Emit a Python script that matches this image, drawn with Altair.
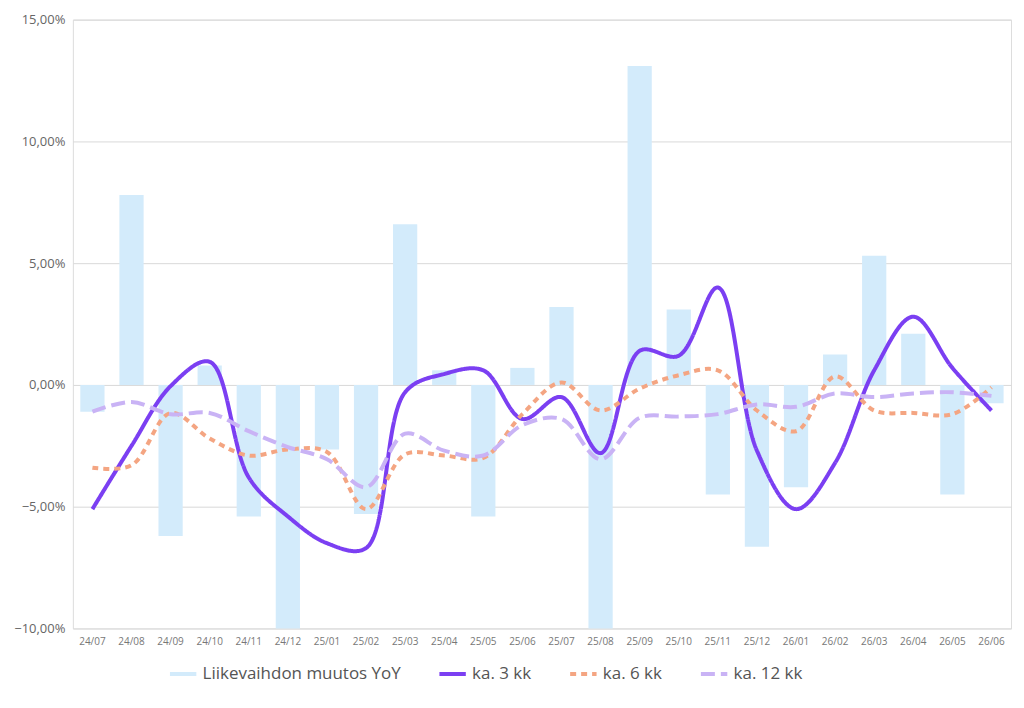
import pandas as pd
import altair as alt

# kuukaudet
months = ["24/07", "24/08", "24/09", "24/10", "24/11", "24/12",
          "25/01", "25/02", "25/03", "25/04", "25/05", "25/06",
          "25/07", "25/08", "25/09", "25/10", "25/11", "25/12",
          "26/01", "26/02", "26/03", "26/04", "26/05", "26/06"]

# arvot prosentteina
yoy = [-1.1, 7.8, -6.2, 0.8, -5.4, -10.5, -2.65, -5.3, 6.6, 0.6, -5.4, 0.7,
       3.2, -10.5, 13.1, 3.1, -4.5, -6.65, -4.2, 1.25, 5.3, 2.1, -4.5, -0.75]
ka3 = [-5.1, -2.5, -0.05, 0.95, -3.8, -5.4, -6.5, -6.7, -0.3, 0.45, 0.6, -1.4,
       -0.5, -2.8, 1.4, 1.2, 4.0, -2.7, -5.1, -3.2, 0.6, 2.8, 0.7, -1.05]
ka6 = [-3.4, -3.3, -1.15, -2.2, -2.9, -2.65, -2.75, -5.1, -2.85, -2.9, -3.0, -1.2,
       0.1, -1.05, -0.15, 0.4, 0.6, -1.05, -1.9, 0.35, -1.05, -1.15, -1.2, -0.1]
ka12 = [-1.1, -0.7, -1.2, -1.15, -1.9, -2.55, -3.05, -4.2, -2.0, -2.7, -2.9, -1.65,
        -1.4, -3.05, -1.35, -1.3, -1.2, -0.8, -0.9, -0.35, -0.5, -0.35, -0.3, -0.45]

names = ["Liikevaihdon muutos YoY", "ka. 3 kk", "ka. 6 kk", "ka. 12 kk"]
colors = ["#d3ebfb", "#7b3ff2", "#f4a582", "#c9b3f5"]
dashes = [[1, 0], [1, 0], [6, 5], [14, 6]]
widths = [4, 4, 1.8, 1.8]

bars = pd.DataFrame({"month": months, "value": [v / 100 for v in yoy], "series": names[0]})
lines = pd.concat([
    pd.DataFrame({"month": months, "value": [v / 100 for v in vals], "series": n})
    for n, vals in zip(names[1:], [ka3, ka6, ka12])
])

x = alt.X("month:N", sort=months, title=None,
          scale=alt.Scale(paddingInner=0.38, paddingOuter=0.19),
          axis=alt.Axis(labelAngle=0, labelFontSize=10, labelColor="#777", ticks=False,
                        domain=False, labelPadding=8))
y = alt.Y("value:Q", title=None,
          scale=alt.Scale(domain=[-0.10, 0.15], nice=False),
          axis=alt.Axis(format=".2%", values=[-0.10, -0.05, 0, 0.05, 0.10, 0.15],
                        labelFontSize=13, labelColor="#666", ticks=False, domain=False,
                        gridColor="#d9d9d9", labelPadding=8))
color = alt.Color("series:N", scale=alt.Scale(domain=names, range=colors), title=None,
                  legend=alt.Legend(orient="none", legendX=95, legendY=640,
                                    direction="horizontal", labelFontSize=17, labelLimit=0,
                                    labelColor="#555", symbolType="stroke", symbolSize=700,
                                    symbolStrokeWidth=4, columnPadding=30))
dash = alt.StrokeDash("series:N", scale=alt.Scale(domain=names, range=dashes), title=None)

bar_layer = alt.Chart(bars).mark_bar(clip=True).encode(x=x, y=y, color=color)
line_layer = alt.Chart(lines).mark_line(interpolate="catmull-rom", clip=True).encode(
    x=x, y=y, color=color, strokeDash=dash,
    strokeWidth=alt.StrokeWidth("series:N", scale=alt.Scale(domain=names, range=widths), legend=None))

chart = alt.layer(bar_layer, line_layer).properties(
    width=940, height=610
).configure_view(stroke=None).configure(font="Open Sans")

chart.save("out.html", embed_options={"renderer": "svg", "actions": False,
                                      "formatLocale": {"decimal": ",", "thousands": " ",
                                                       "grouping": [3], "currency": ["", " €"]}})
